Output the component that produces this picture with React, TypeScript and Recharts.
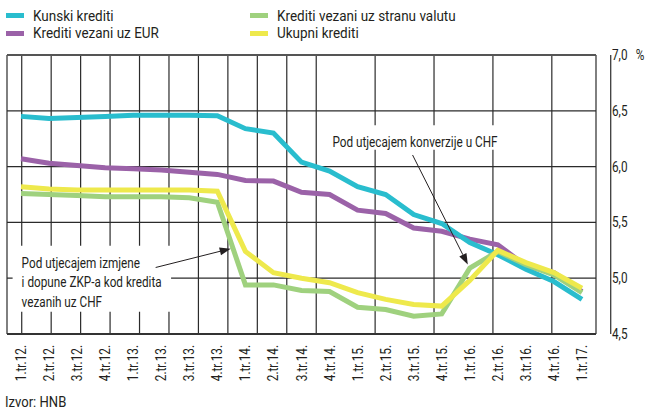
import React from 'react';
import {
  LineChart,
  Line,
  XAxis,
  YAxis,
  CartesianGrid,
  ReferenceLine,
  ReferenceArea,
  Legend,
  Label,
} from 'recharts';

// ---------- data ----------
const quarters = [
  '1.tr.12.', '2.tr.12.', '3.tr.12.', '4.tr.12.',
  '1.tr.13.', '2.tr.13.', '3.tr.13.', '4.tr.13.',
  '1.tr.14.', '2.tr.14.', '3.tr.14.', '4.tr.14.',
  '1.tr.15.', '2.tr.15.', '3.tr.15.', '4.tr.15.',
  '1.tr.16.', '2.tr.16.', '3.tr.16.', '4.tr.16.',
  '1.tr.17.',
];
const kunski = [6.45, 6.43, 6.44, 6.45, 6.46, 6.46, 6.46, 6.455, 6.34, 6.3, 6.04, 5.96, 5.82, 5.75, 5.57, 5.49, 5.32, 5.21, 5.08, 4.97, 4.81];
const eur = [6.07, 6.03, 6.01, 5.99, 5.98, 5.97, 5.95, 5.93, 5.875, 5.87, 5.77, 5.75, 5.61, 5.58, 5.45, 5.42, 5.35, 5.3, 5.11, 5.05, 4.88];
const strana = [5.76, 5.75, 5.74, 5.73, 5.73, 5.73, 5.72, 5.68, 4.94, 4.94, 4.89, 4.88, 4.74, 4.72, 4.66, 4.68, 5.09, 5.24, 5.12, 5.03, 4.87];
const ukupni = [5.82, 5.8, 5.79, 5.79, 5.79, 5.79, 5.79, 5.78, 5.24, 5.05, 5.0, 4.96, 4.87, 4.81, 4.765, 4.75, 4.98, 5.25, 5.14, 5.05, 4.91];
const yTicks = [4.5, 5.0, 5.5, 6.0, 6.5, 7.0];

const series = [
  { key: 'kunski', name: 'Kunski krediti', color: '#29BDCE' },
  { key: 'strana', name: 'Krediti vezani uz stranu valutu', color: '#9FD17E' },
  { key: 'eur', name: 'Krediti vezani uz EUR', color: '#9B62A8' },
  { key: 'ukupni', name: 'Ukupni krediti', color: '#EEE94C' },
];
const drawOrder = ['eur', 'kunski', 'strana', 'ukupni'];

const note1Lines = ['Pod utjecajem izmjene', 'i dopune ZKP-a kod kredita', 'vezanih uz CHF'];
const note2Lines = ['Pod utjecajem konverzije u CHF'];

const data = quarters.map((q, i) => ({
  idx: i,
  q,
  kunski: kunski[i],
  eur: eur[i],
  strana: strana[i],
  ukupni: ukupni[i],
}));
const xTicks = quarters.map((_, i) => i);
const gridTicks = [...quarters.map((_, i) => i - 0.5), quarters.length - 0.5];
const xDomain = [-0.5, quarters.length - 0.5];

// ---------- style ----------
const FONT = "Roboto, 'Liberation Sans', sans-serif";
const TEXT = '#231f20';
const SX = 0.84; // horizontal condensing to mimic a condensed face
const LSX = 0.87;

const XTick = (props: any) => {
  const { x, y, payload } = props;
  return (
    <g transform={`translate(${x},${y}) rotate(-90) scale(${SX},1)`}>
      <text x={0} y={0} textAnchor="end" dy="0.36em" fontSize={14} fontFamily={FONT} fill={TEXT}>
        {quarters[payload.value]}
      </text>
    </g>
  );
};

const YTick = (props: any) => {
  const { x, y, payload } = props;
  return (
    <g transform={`translate(${x},${y}) scale(${SX},1)`}>
      <text x={0} y={0} textAnchor="start" dy="0.36em" fontSize={14} fontFamily={FONT} fill={TEXT}>
        {Number(payload.value).toFixed(1).replace('.', ',')}
      </text>
    </g>
  );
};

const PercentLabel = (props: any) => {
  const vb = props.viewBox || {};
  return (
    <g transform={`translate(${vb.x + 44},${vb.y}) scale(${SX},1)`}>
      <text x={0} y={0} dy="0.36em" textAnchor="middle" fontSize={14} fontFamily={FONT} fill={TEXT}>
        %
      </text>
    </g>
  );
};

const makeNote = (lines: string[], anchor: 'start' | 'middle') => (props: any) => {
  const vb = props.viewBox || {};
  const x = anchor === 'start' ? vb.x + 9 : vb.x + vb.width / 2;
  return (
    <g transform={`translate(${x},${vb.y}) scale(${SX},1)`}>
      <text x={0} y={0} textAnchor={anchor} fontSize={14} fontFamily={FONT} fill={TEXT}>
        {lines.map((l, i) => (
          <tspan key={i} x={0} y={17 + i * 19.5} dy="0.36em">
            {l}
          </tspan>
        ))}
      </text>
    </g>
  );
};

const Arrow = (props: any) => {
  const { x1, y1, x2, y2 } = props;
  const dx = x2 - x1;
  const dy = y2 - y1;
  const len = Math.sqrt(dx * dx + dy * dy) || 1;
  const ux = dx / len;
  const uy = dy / len;
  const hl = 11;
  const hw = 4;
  const bx = x2 - ux * hl;
  const by = y2 - uy * hl;
  const pts = `${x2},${y2} ${bx - uy * hw},${by + ux * hw} ${bx + uy * hw},${by - ux * hw}`;
  return (
    <g>
      <line x1={x1} y1={y1} x2={bx} y2={by} stroke={TEXT} strokeWidth={1} />
      <polygon points={pts} fill={TEXT} />
    </g>
  );
};

const LegendContent = () => (
  <div
    style={{
      display: 'grid',
      gridTemplateColumns: '244px auto',
      fontFamily: FONT,
      fontSize: 15.5,
      color: TEXT,
    }}
  >
    {series.map((s) => (
      <div key={s.key} style={{ display: 'flex', alignItems: 'center', height: 17.5 }}>
        <span style={{ display: 'inline-block', width: 18, height: 5, background: s.color, flex: 'none' }} />
        <span
          style={{
            marginLeft: 9,
            whiteSpace: 'nowrap',
            display: 'inline-block',
            transform: `scaleX(${LSX})`,
            transformOrigin: 'left center',
          }}
        >
          {s.name}
        </span>
      </div>
    ))}
  </div>
);

export default function App() {
  return (
    <div style={{ position: 'absolute', left: 0, top: 0, width: 648, height: 412, background: '#fff' }}>
      <LineChart width={648} height={412} data={data} margin={{ top: 55, right: 0, bottom: 0, left: 7 }}>
        <XAxis
          xAxisId="grid"
          type="number"
          domain={xDomain}
          ticks={gridTicks}
          hide
          allowDataOverflow
        />
        <XAxis
          type="number"
          dataKey="idx"
          domain={xDomain}
          ticks={xTicks}
          interval={0}
          tick={<XTick />}
          tickLine={false}
          axisLine={false}
          tickSize={0}
          tickMargin={11}
          height={78}
          allowDataOverflow
        />
        <YAxis
          orientation="right"
          domain={[4.5, 7]}
          ticks={yTicks}
          interval={0}
          width={52}
          axisLine={false}
          tickLine={false}
          tickSize={0}
          tickMargin={16}
          tick={<YTick />}
        >
          <Label content={PercentLabel} />
        </YAxis>
        <CartesianGrid xAxisId="grid" stroke="#2b2b2b" strokeWidth={1.2} />
        <ReferenceLine y={7} stroke="#555" strokeWidth={2.2} />
        <ReferenceLine y={4.5} stroke="#333" strokeWidth={2} />
        <ReferenceArea
          x1={-0.3}
          x2={5.35}
          y1={4.7}
          y2={5.29}
          fill="#fff"
          fillOpacity={1}
          stroke="none"
          label={makeNote(note1Lines, 'start')}
        />
        <ReferenceArea
          x1={10.76}
          x2={17.33}
          y1={6.15}
          y2={6.37}
          fill="#fff"
          fillOpacity={1}
          stroke="none"
          label={makeNote(note2Lines, 'middle')}
        />
        <Legend
          layout="horizontal"
          verticalAlign="middle"
          align="center"
          wrapperStyle={{ top: 7, left: 6, width: 600, height: 36 }}
          content={<LegendContent />}
        />
        {drawOrder.map((k) => {
          const s = series.find((x) => x.key === k)!;
          return (
            <Line
              key={k}
              type="linear"
              dataKey={k}
              name={s.name}
              stroke={s.color}
              strokeWidth={5}
              dot={false}
              activeDot={false}
              isAnimationActive={false}
            />
          );
        })}
        <ReferenceLine
          segment={[
            { x: 4.8, y: 5.096 },
            { x: 7.475, y: 5.265 },
          ]}
          shape={Arrow}
        />
        <ReferenceLine
          segment={[
            { x: 13.96, y: 6.104 },
            { x: 15.93, y: 5.122 },
          ]}
          shape={Arrow}
        />
      </LineChart>
      <div
        style={{
          position: 'absolute',
          left: 5,
          top: 393,
          fontFamily: FONT,
          fontSize: 15,
          color: TEXT,
          whiteSpace: 'nowrap',
          transform: `scaleX(${LSX})`,
          transformOrigin: 'left center',
        }}
      >
        Izvor: HNB
      </div>
    </div>
  );
}
